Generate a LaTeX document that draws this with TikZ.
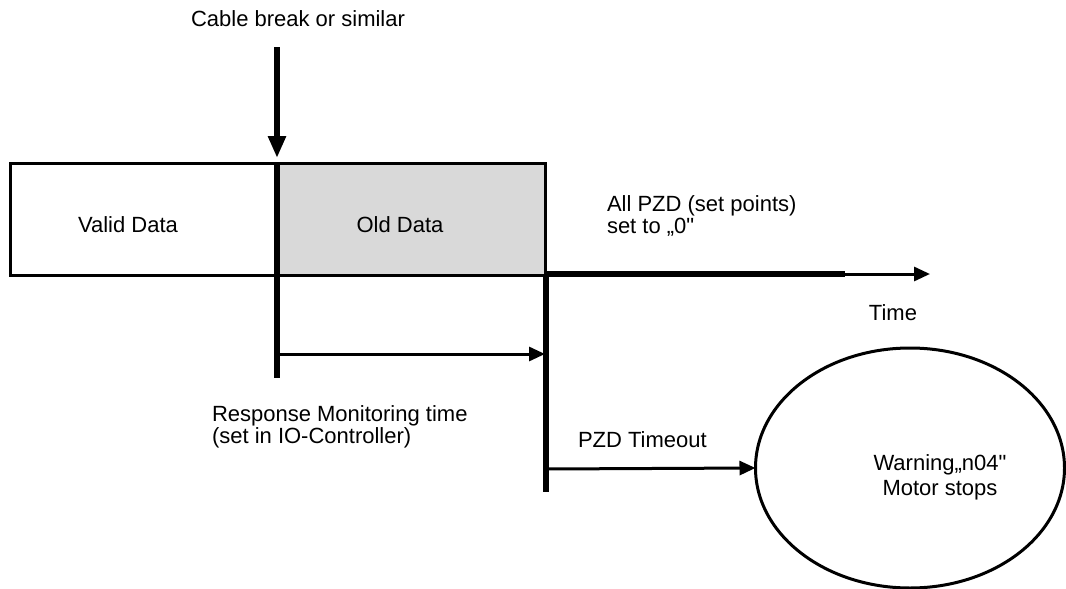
\documentclass[tikz,border=0pt]{standalone}
\usepackage{fontspec}
\setmainfont{Liberation Sans}
\usetikzlibrary{arrows.meta,shapes.geometric}
\definecolor{olddata}{HTML}{D9D9D9}
\newcommand{\straightquote}{\XeTeXglyph\XeTeXcharglyph"0022\relax}
\tikzset{
  lbl/.style={font=\fontsize{22}{22}\selectfont, inner sep=0pt, outer sep=0pt},
  thinln/.style={line width=3pt},
  thickln/.style={line width=5.5pt},
  tipbig/.style={-{Triangle[length=22pt,width=17pt]}},
  tipsmall/.style={-{Triangle[length=16pt,width=14pt]}},
}
\begin{document}
\begin{tikzpicture}[x=1pt,y=-1pt]
\useasboundingbox (0,0) rectangle (1066,589);
% coordinates
\coordinate (cabtop) at (277,47);
\coordinate (cabtip) at (277,158);
\coordinate (boxtl) at (10,163);
\coordinate (boxbr) at (545,275);
\coordinate (divtop) at (277,163);
\coordinate (divbot) at (277,378);
\coordinate (oldtl) at (277,163);
\coordinate (rtop) at (546,275);
\coordinate (rbot) at (546,492);
\coordinate (tstart) at (546,274);
\coordinate (tmid) at (845,274);
\coordinate (tend) at (930,274);
\coordinate (rms) at (277,354);
\coordinate (rme) at (545,354);
\coordinate (pzs) at (546,469);
% fills and box
\fill[olddata] (oldtl) rectangle (boxbr);
\draw[thinln] (boxtl) rectangle (boxbr);
% ellipse
\node[ellipse, draw, thinln, minimum width=309pt, minimum height=240pt, inner sep=0pt, outer sep=0pt] (warn) at (910,468) {};
% lines
\draw[line width=6pt, tipbig] (cabtop) -- (cabtip);
\draw[line width=6pt] (divtop) -- (divbot);
\draw[thickln] (rtop) -- (rbot);
\draw[thickln] (tstart) -- (tmid);
\draw[thinln, tipsmall] (tmid) -- (tend);
\draw[thinln, tipsmall] (rms) -- (rme);
\draw[thinln, tipsmall] (pzs) -- (warn.west);
% labels
\node[lbl, anchor=base] (cab) at (298,27) {Cable break or similar};
\node[lbl, anchor=base] (valid) at (128,232) {Valid Data};
\node[lbl, anchor=base] (old) at (400,232) {Old Data};
\node[lbl, anchor=base west, align=left] (allpzd) at (607,233) {All PZD (set points)\\set to „0\straightquote};
\node[lbl, anchor=base] (time) at (893,320) {Time};
\node[lbl, anchor=base west, align=left] (resp) at (212,443) {Response Monitoring time\\(set in IO-Controller)};
\node[lbl, anchor=base west] (pzdt) at (578,447) {PZD Timeout};
\node[lbl, anchor=base, align=center, font=\fontsize{22}{25}\selectfont] (warntxt) at (940,495) {Warning„n04\straightquote\\Motor stops};
\end{tikzpicture}
\end{document}
